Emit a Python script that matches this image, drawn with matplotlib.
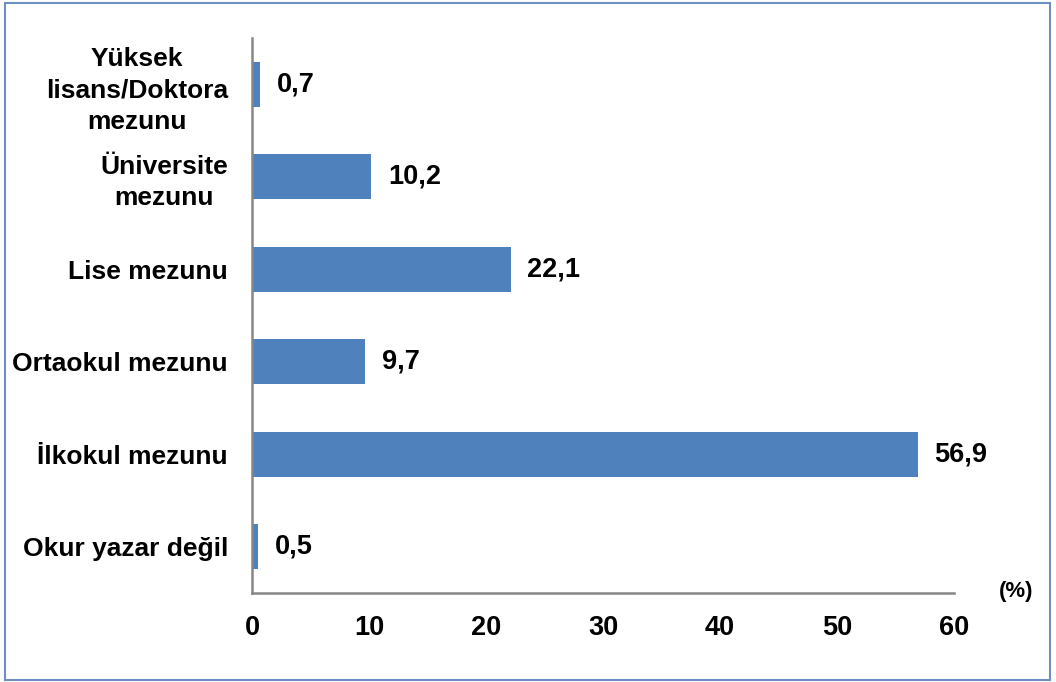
import matplotlib
matplotlib.use("Agg")
import matplotlib.pyplot as plt
from matplotlib.patches import Rectangle

plt.rcParams['font.family'] = ['Liberation Sans', 'DejaVu Sans']

categories = ["Okur yazar değil", "İlkokul mezunu", "Ortaokul mezunu",
              "Lise mezunu", "Üniversite\nmezunu", "Yüksek\nlisans/Doktora\nmezunu"]
values = [0.5, 56.9, 9.7, 22.1, 10.2, 0.7]
value_labels = ["0,5", "56,9", "9,7", "22,1", "10,2", "0,7"]
xticks = [0, 10, 20, 30, 40, 50, 60]

W, H = 1056, 682
fig = plt.figure(figsize=(W / 100, H / 100), dpi=100)
ax = fig.add_axes([252 / W, 1 - 593 / H, (954 - 252) / W, (593 - 38) / H])

ypos = list(range(len(categories)))
ax.barh(ypos, values, height=0.49, color="#4F81BD")
ax.set_xlim(0, 60)
ax.set_ylim(-0.5, len(categories) - 0.5)

for y, v, lab in zip(ypos, values, value_labels):
    ax.annotate(lab, (v, y), xytext=(12, 0), textcoords="offset points",
                ha="left", va="center", fontsize=19.5, fontweight="bold")

ax.set_xticks(xticks)
ax.set_xticklabels([str(t) for t in xticks], fontsize=19.5, fontweight="bold")
ax.set_yticks(ypos)
ax.set_yticklabels(categories, fontsize=19, fontweight="bold",
                   ha="right", multialignment="center", linespacing=1.38)
ax.tick_params(axis="y", length=0, pad=24 * 0.72)
ax.tick_params(axis="x", length=0, pad=16)

for s in ["top", "right"]:
    ax.spines[s].set_visible(False)
for s in ["left", "bottom"]:
    ax.spines[s].set_color("#868686")
    ax.spines[s].set_linewidth(1.8)

fig.text(1016 / W, 1 - 592 / H, "(%)", ha="center", va="center",
         fontsize=16, fontweight="bold")

fig.patches.append(Rectangle((5 / W, 2 / H), (1050 - 5) / W, (679 - 2) / H,
                             transform=fig.transFigure, fill=False,
                             edgecolor="#6E8FC4", linewidth=1.5))

fig.savefig("out.png", dpi=100)
